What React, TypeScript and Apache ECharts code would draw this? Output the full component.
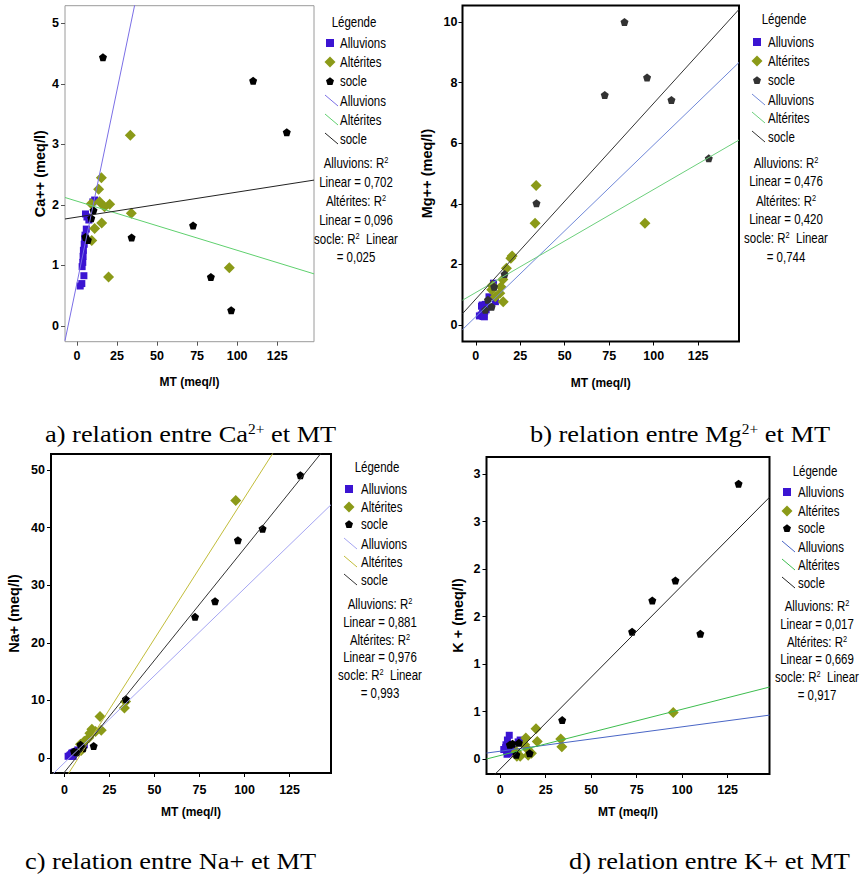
import React, { useEffect, useRef } from "react";
import * as echarts from "echarts";

// ---------- DATA ----------
const GROUPS = ["Alluvions", "Altérites", "socle"];

const MT_TICKS = [0, 25, 50, 75, 100, 125];
const CA_TICKS = [0, 1, 2, 3, 4, 5];
const MG_TICKS = [0, 2, 4, 6, 8, 10];
const NA_TICKS = [0, 10, 20, 30, 40, 50];
const K_TICKS = [0, 0.5, 1, 1.5, 2, 2.5, 3];
const K_TICK_LABELS = ["0", "1", "1", "2", "2", "3", "3"];

const MT_ALLUVIONS = [2.0, 3.0, 3.2, 3.6, 3.8, 4.0, 4.3, 4.5, 4.8, 5.0, 5.3, 5.8, 6.2, 7.4, 9.9, 11.0];
const CA_ALLUVIONS = [0.66, 0.7, 0.98, 1.05, 1.15, 1.25, 0.83, 1.35, 1.45, 1.5, 1.85, 1.6, 1.8, 1.75, 2.05, 2.08];
const MG_ALLUVIONS = [0.3, 0.33, 0.62, 0.66, 0.4, 0.28, 0.55, 0.35, 0.27, 0.45, 0.68, 0.5, 0.6, 0.93, 1.38, 0.77];
const NA_ALLUVIONS = [0.3, 0.45, 0.5, 0.6, 0.35, 0.8, 0.9, 0.55, 0.28, 0.87, 1.0, 1.1, 0.95, 1.4, 1.73, 2.3];
const K_ALLUVIONS = [0.1, 0.12, 0.15, 0.08, 0.05, 0.2, 0.1, 0.06, 0.12, 0.25, 0.09, 0.07, 0.15, 0.1, 0.18, 0.2];

const MT_ALTERITES = [8.9, 9.2, 11.0, 13.5, 14.1, 15.2, 15.4, 17.2, 19.7, 20.4, 33.3, 33.9, 95.1];
const CA_ALTERITES = [2.02, 1.41, 1.61, 2.26, 2.05, 2.45, 1.7, 1.97, 0.81, 2.01, 3.15, 1.86, 0.96];
const MG_ALTERITES = [1.16, 1.3, 0.93, 1.05, 1.26, 1.5, 0.77, 1.87, 2.2, 2.28, 3.36, 4.6, 3.36];
const NA_ALTERITES = [2.4, 1.3, 2.9, 3.5, 4.3, 5.0, 4.4, 4.6, 7.2, 4.8, 8.7, 9.8, 44.7];
const K_ALTERITES = [0.08, 0.03, 0.03, 0.15, 0.22, 0.1, 0.04, 0.06, 0.32, 0.185, 0.21, 0.13, 0.49];

const MT_SOCLE = [5.3, 6.8, 8.9, 10.3, 16.2, 34.1, 72.5, 83.6, 96.3, 110.0, 131.0];
const CA_SOCLE = [1.47, 1.42, 1.78, 1.91, 4.44, 1.46, 1.66, 0.81, 0.26, 4.05, 3.2];
const MG_SOCLE = [0.5, 0.83, 0.6, 1.26, 1.68, 4.02, 7.59, 10.0, 8.17, 7.43, 5.5];
const NA_SOCLE = [1.15, 1.0, 2.3, 1.7, 2.1, 10.2, 24.5, 27.2, 37.8, 39.8, 49.1];
const K_SOCLE = [0.15, 0.16, 0.045, 0.17, 0.06, 0.41, 1.34, 1.67, 1.88, 1.32, 2.9];

// fitted lines: [Alluvions, Altérites, socle]
const CA_FIT_INTERCEPT = [0.713, 2.061, 1.798];
const CA_FIT_SLOPE = [0.1274, -0.00811, 0.00413];
const MG_FIT_INTERCEPT = [0.274, 1.073, 0.857];
const MG_FIT_SLOPE = [0.0567, 0.034, 0.0646];
const NA_FIT_INTERCEPT = [-0.81, -3.77, -2.45];
const NA_FIT_SLOPE = [0.3025, 0.4898, 0.3885];
const K_FIT_INTERCEPT = [0.082, 0.0366, -0.106];
const K_FIT_SLOPE = [0.00257, 0.004875, 0.01935];

const CA_R2 = ["0,702", "0,096", "0,025"];
const MG_R2 = ["0,476", "0,420", "0,744"];
const NA_R2 = ["0,881", "0,976", "0,993"];
const K_R2 = ["0,017", "0,669", "0,917"];

// ---------- STYLE ----------
const X_MIN = -7.5;
const X_MAX = 148;
const SANS = "'Liberation Sans', Arial, sans-serif";
const SERIF = "'Liberation Serif', 'Times New Roman', serif";
const POINT_COLORS = ["#3b14d2", "#8b9a18", "#000000"];
const PENTAGON = "path://M50,0 L97.6,34.5 L79.4,90.5 L20.6,90.5 L2.4,34.5 Z";
const NARROW_SCALE = 0.82;

const MT = [MT_ALLUVIONS, MT_ALTERITES, MT_SOCLE];

const panels = [
  {
    grid: { left: 65, top: 5.7, width: 249, height: 336 },
    frame: { color: "#9a9a9a", width: 1 },
    tickColor: "#555",
    yMin: -0.26, yMax: 5.29, yTicks: CA_TICKS, yLabel: (v: number) => String(v),
    yName: "Ca++ (meq/l)", yGap: 18, yLabelMargin: 6, xLabelMargin: 8, xGap: 34,
    ion: [CA_ALLUVIONS, CA_ALTERITES, CA_SOCLE],
    fitB: CA_FIT_INTERCEPT, fitM: CA_FIT_SLOPE, r2: CA_R2,
    lineColors: ["#7b6fe6", "#5fd06e", "#222222"], socleColor: "#000",
    leg: { titleX: 354, titleY: 22, symX: 330, textX: 340, itemY: [43, 62, 81, 101, 120, 139], r2X: 356, r2Y: [163, 182, 201, 220, 239, 257] },
  },
  {
    grid: { left: 462.5, top: 5.5, width: 276.5, height: 336 },
    frame: { color: "#000", width: 2 },
    tickColor: "#000",
    yMin: -0.545, yMax: 10.545, yTicks: MG_TICKS, yLabel: (v: number) => String(v),
    yName: "Mg++ (meq/l)", yGap: 28, yLabelMargin: 5, xLabelMargin: 8, xGap: 35,
    ion: [MG_ALLUVIONS, MG_ALTERITES, MG_SOCLE],
    fitB: MG_FIT_INTERCEPT, fitM: MG_FIT_SLOPE, r2: MG_R2,
    lineColors: ["#7088d8", "#6ccf7c", "#333333"], socleColor: "#333",
    leg: { titleX: 784, titleY: 19, symX: 757, textX: 768, itemY: [42, 61, 80, 100, 118, 137], r2X: 786, r2Y: [163, 181, 201, 219, 238, 257] },
  },
  {
    grid: { left: 51, top: 454, width: 280, height: 319 },
    frame: { color: "#000", width: 2 },
    tickColor: "#000",
    yMin: -2.6, yMax: 52.77, yTicks: NA_TICKS, yLabel: (v: number) => String(v),
    yName: "Na+ (meq/l)", yGap: 30, yLabelMargin: 6, xLabelMargin: 10, xGap: 33,
    ion: [NA_ALLUVIONS, NA_ALTERITES, NA_SOCLE],
    fitB: NA_FIT_INTERCEPT, fitM: NA_FIT_SLOPE, r2: NA_R2,
    lineColors: ["#a5a5f2", "#c2bd3a", "#333333"], socleColor: "#000",
    leg: { titleX: 377, titleY: 467, symX: 349, textX: 361, itemY: [489, 507, 524, 544, 562, 580], r2X: 380, r2Y: [604, 622, 640, 657, 675, 693] },
  },
  {
    grid: { left: 486.5, top: 457, width: 283, height: 317 },
    frame: { color: "#000", width: 2 },
    tickColor: "#000",
    yMin: -0.158, yMax: 3.182, yTicks: K_TICKS,
    yLabel: (v: number) => K_TICK_LABELS[K_TICKS.indexOf(v)] ?? "",
    yName: "K + (meq/l)", yGap: 21, yLabelMargin: 6, xLabelMargin: 9, xGap: 32,
    ion: [K_ALLUVIONS, K_ALTERITES, K_SOCLE],
    fitB: K_FIT_INTERCEPT, fitM: K_FIT_SLOPE, r2: K_R2,
    lineColors: ["#4a66c6", "#3dbd4e", "#222222"], socleColor: "#000",
    leg: { titleX: 815, titleY: 471, symX: 787, textX: 798, itemY: [492, 511, 528, 547, 565, 583], r2X: 817, r2Y: [606, 624, 642, 659, 677, 695] },
  },
];

const captions = [
  { x: 45, y: 434, text: "a) relation entre Ca{sup|2+} et MT" },
  { x: 530, y: 434, text: "b) relation entre Mg{sup|2+} et MT" },
  { x: 25, y: 861, text: "c) relation entre Na+ et MT" },
  { x: 569, y: 861, text: "d) relation entre K+ et MT" },
];

function txt(x: number, y: number, text: string, opts: any = {}) {
  return {
    type: "text",
    x,
    y,
    scaleX: NARROW_SCALE,
    silent: true,
    style: {
      text,
      fontSize: 14,
      fontFamily: SANS,
      fill: "#000",
      textAlign: "left",
      textVerticalAlign: "middle",
      rich: { sup: { fontSize: 9, fontFamily: SANS, verticalAlign: "top", fill: "#000" } },
      ...opts,
    },
  };
}

function legendElements(p: any) {
  const els: any[] = [];
  const L = p.leg;
  const sx = L.symX;
  const ys = L.itemY;
  els.push(txt(L.titleX, L.titleY, "Légende", { textAlign: "center" }));
  els.push({ type: "rect", silent: true, shape: { x: sx - 4, y: ys[0] - 4, width: 8, height: 8 }, style: { fill: POINT_COLORS[0] } });
  els.push({
    type: "polygon", silent: true,
    shape: { points: [[sx, ys[1] - 5.5], [sx + 5.5, ys[1]], [sx, ys[1] + 5.5], [sx - 5.5, ys[1]]] },
    style: { fill: POINT_COLORS[1] },
  });
  const r = 4.2;
  const pent: number[][] = [];
  for (let k = 0; k < 5; k++) {
    const a = -Math.PI / 2 + (k * 2 * Math.PI) / 5;
    pent.push([sx + r * Math.cos(a), ys[2] + r * Math.sin(a) + 0.5]);
  }
  els.push({ type: "polygon", silent: true, shape: { points: pent }, style: { fill: p.socleColor } });
  for (let g = 0; g < 3; g++) {
    const y = ys[3 + g];
    els.push({ type: "line", silent: true, shape: { x1: sx - 5, y1: y - 6, x2: sx + 8, y2: y + 5 }, style: { stroke: p.lineColors[g], lineWidth: 1 } });
  }
  for (let g = 0; g < 3; g++) {
    els.push(txt(L.textX, ys[g], GROUPS[g]));
    els.push(txt(L.textX, ys[3 + g], GROUPS[g]));
  }
  const r2Lines = [
    `${GROUPS[0]}: R{sup|2}`,
    `Linear = ${p.r2[0]}`,
    `${GROUPS[1]}: R{sup|2}`,
    `Linear = ${p.r2[1]}`,
    `${GROUPS[2]}: R{sup|2}  Linear`,
    `= ${p.r2[2]}`,
  ];
  r2Lines.forEach((s, i) => els.push(txt(L.r2X, L.r2Y[i], s, { textAlign: "center" })));
  return els;
}

function buildOption() {
  const grid: any[] = [];
  const xAxis: any[] = [];
  const yAxis: any[] = [];
  const series: any[] = [];
  const graphic: any[] = [];
  const tickFont = { fontFamily: SANS, fontWeight: "bold", fontSize: 12.5, color: "#000" };

  panels.forEach((p, i) => {
    grid.push({
      ...p.grid,
      show: true,
      borderColor: p.frame.color,
      borderWidth: p.frame.width,
      backgroundColor: "transparent",
      containLabel: false,
    });
    xAxis.push({
      type: "value",
      gridIndex: i,
      min: X_MIN,
      max: X_MAX,
      axisLine: { show: false, onZero: false },
      axisTick: { show: true, length: 4, customValues: MT_TICKS, lineStyle: { color: p.tickColor } },
      axisLabel: { customValues: MT_TICKS, margin: p.xLabelMargin, ...tickFont },
      splitLine: { show: false },
      name: "MT (meq/l)",
      nameLocation: "middle",
      nameGap: p.xGap,
      nameTextStyle: { fontFamily: SANS, fontWeight: "bold", fontSize: 12, color: "#000" },
    });
    yAxis.push({
      type: "value",
      gridIndex: i,
      min: p.yMin,
      max: p.yMax,
      axisLine: { show: false, onZero: false },
      axisTick: { show: true, length: 4, customValues: p.yTicks, lineStyle: { color: p.tickColor } },
      axisLabel: { customValues: p.yTicks, formatter: p.yLabel, margin: p.yLabelMargin, ...tickFont },
      splitLine: { show: false },
      name: p.yName,
      nameLocation: "middle",
      nameGap: p.yGap,
      nameRotate: 90,
      nameTextStyle: { fontFamily: SANS, fontWeight: "bold", fontSize: 14.5, color: "#000" },
    });
    const symbols = ["rect", "diamond", PENTAGON];
    const sizes = [7, 11, 8];
    for (let g = 0; g < 3; g++) {
      series.push({
        type: "scatter",
        name: GROUPS[g],
        xAxisIndex: i,
        yAxisIndex: i,
        symbol: symbols[g],
        symbolSize: sizes[g],
        itemStyle: { color: g === 2 ? p.socleColor : POINT_COLORS[g], opacity: 1 },
        data: MT[g].map((x, k) => [x, p.ion[g][k]]),
        z: 2 + g,
        silent: true,
      });
    }
    for (let g = 0; g < 3; g++) {
      const b = p.fitB[g];
      const m = p.fitM[g];
      series.push({
        type: "line",
        name: GROUPS[g],
        xAxisIndex: i,
        yAxisIndex: i,
        showSymbol: false,
        symbol: "none",
        clip: true,
        silent: true,
        lineStyle: { color: p.lineColors[g], width: 1 },
        data: [[X_MIN, b + m * X_MIN], [X_MAX, b + m * X_MAX]],
        z: 6,
      });
    }
    graphic.push(...legendElements(p));
  });

  captions.forEach((c) => {
    graphic.push({
      type: "text",
      x: c.x,
      y: c.y,
      scaleX: 1.1,
      silent: true,
      style: {
        text: c.text,
        fontSize: 24,
        fontFamily: SERIF,
        fill: "#000",
        textAlign: "left",
        textVerticalAlign: "middle",
        rich: { sup: { fontSize: 14, fontFamily: SERIF, verticalAlign: "top", fill: "#000" } },
      },
    });
  });

  return {
    animation: false,
    backgroundColor: "#ffffff",
    grid,
    xAxis,
    yAxis,
    series,
    graphic,
  };
}

export default function App() {
  const ref = useRef<HTMLDivElement>(null);
  useEffect(() => {
    const chart = echarts.init(ref.current!, null, { renderer: "svg" });
    chart.setOption(buildOption() as any);
    return () => chart.dispose();
  }, []);
  return (
    <div
      ref={ref}
      style={{ position: "absolute", left: 0, top: 0, width: 867, height: 877, background: "#fff" }}
    />
  );
}
